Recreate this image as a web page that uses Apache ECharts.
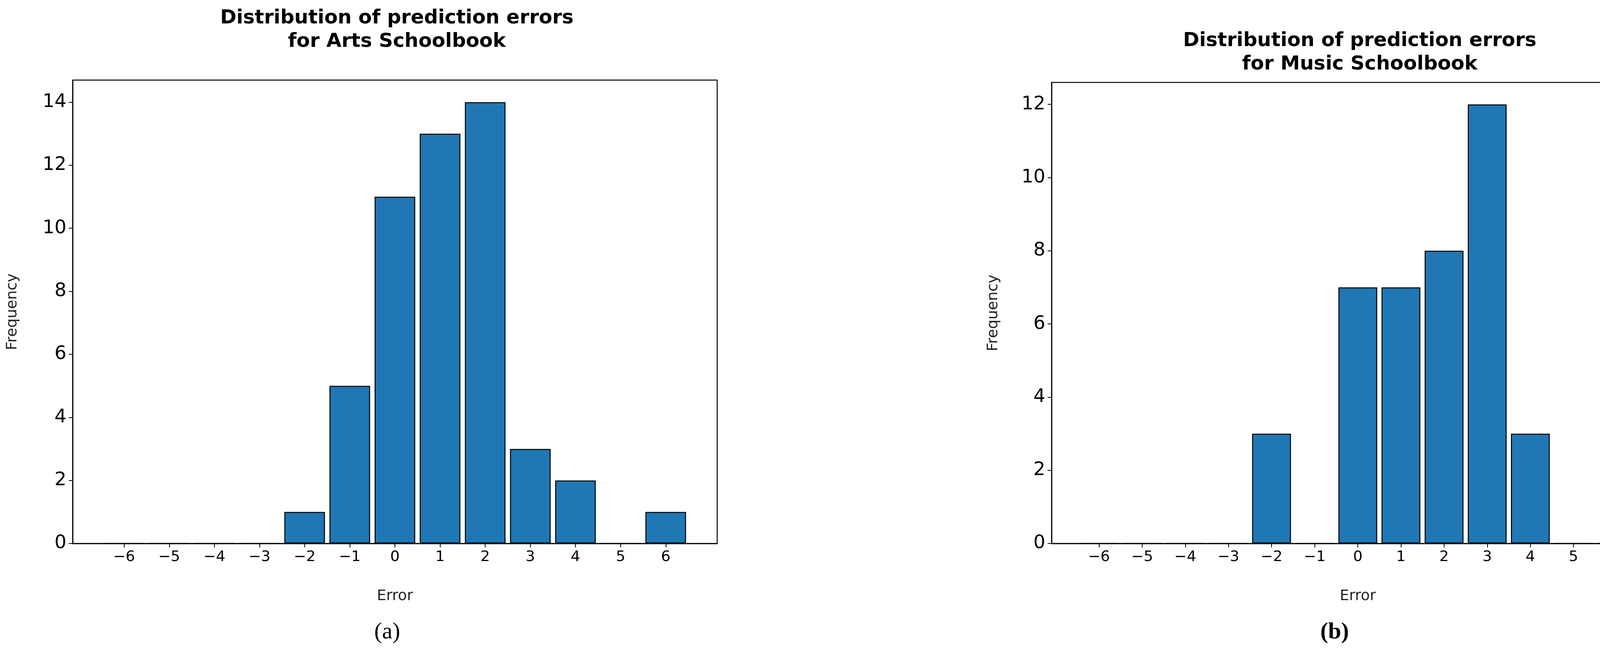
<!DOCTYPE html><html><head><meta charset="utf-8">
<script src="https://cdn.jsdelivr.net/npm/echarts@6/dist/echarts.min.js"></script>
<style>html,body{margin:0;background:#fff}#c{width:4295px;height:1679px}</style></head><body><div id="c"></div>
<script>
const errors=[-6,-5,-4,-3,-2,-1,0,1,2,3,4,5,6];
const artsFreq=[0,0,0,0,1,5,11,13,14,3,2,0,1];
const musicFreq=[0,0,0,0,3,0,7,7,8,12,3,0,0];
const artsTicks=[0,2,4,6,8,10,12,14];
const musicTicks=[0,2,4,6,8,10,12];
const titles=['Distribution of prediction errors\nfor Arts Schoolbook','Distribution of prediction errors\nfor Music Schoolbook'];
const chart=echarts.init(document.getElementById('c'));
const G=[{left:186,top:205,width:1650,height:1186,xmin:-7.14,xmax:7.14,ymax:14.7,ticks:artsTicks,data:artsFreq,tt:12},
         {left:2692,top:211,width:1568,height:1180,xmin:-7.1,xmax:7.1,ymax:12.6,ticks:musicTicks,data:musicFreq,tt:70}];
const fmt=v=>String(v).replace('-','\u2212');
const opt={animation:false,grid:[],xAxis:[],yAxis:[],series:[],title:[],graphic:[]};
G.forEach((g,i)=>{
  opt.grid.push({left:g.left,top:g.top,width:g.width,height:g.height,show:true,borderColor:'#000',borderWidth:2.5,backgroundColor:'#fff'});
  opt.xAxis.push({type:'value',gridIndex:i,min:g.xmin,max:g.xmax,splitLine:{show:false},
    axisLine:{onZero:false,lineStyle:{color:'#000',width:2.5}},
    axisTick:{customValues:errors,length:10,lineStyle:{color:'#000',width:2}},
    axisLabel:{customValues:errors,formatter:fmt,fontSize:38,color:'#000',margin:16,fontFamily:'DejaVu Sans'},
    name:'Error',nameLocation:'middle',nameGap:116,nameTextStyle:{fontSize:38,color:'#222',fontFamily:'DejaVu Sans'}});
  opt.yAxis.push({type:'value',gridIndex:i,min:0,max:g.ymax,splitLine:{show:false},
    axisLine:{show:true,onZero:false,lineStyle:{color:'#000',width:2.5}},
    axisTick:{show:true,customValues:g.ticks,length:10,lineStyle:{color:'#000',width:2}},
    axisLabel:{customValues:g.ticks,fontSize:48,color:'#000',margin:16,fontFamily:'DejaVu Sans'},
    name:'Frequency',nameLocation:'middle',nameGap:i===0?135:130,nameTextStyle:{fontSize:38,color:'#222',fontFamily:'DejaVu Sans'}});
  opt.series.push({type:'bar',xAxisIndex:i,yAxisIndex:i,data:errors.map((e,k)=>[e,g.data[k]]),
    barWidth:0.9/(g.xmax-g.xmin)*g.width,itemStyle:{color:'#1f77b4',borderColor:'#000',borderWidth:2.5}});
  opt.title.push({text:titles[i],left:g.left+g.width/2,top:g.tt,textAlign:'center',
    textStyle:{fontSize:50,fontWeight:'bold',color:'#000',fontFamily:'DejaVu Sans',lineHeight:60}});
});
opt.graphic.push({type:'text',left:958,top:1588,style:{text:'(a)',font:'60px "Liberation Serif"',fill:'#000'}},
                 {type:'text',left:3380,top:1588,style:{text:'(b)',font:'bold 60px "Liberation Serif"',fill:'#000'}});
chart.setOption(opt);
</script></body></html>
